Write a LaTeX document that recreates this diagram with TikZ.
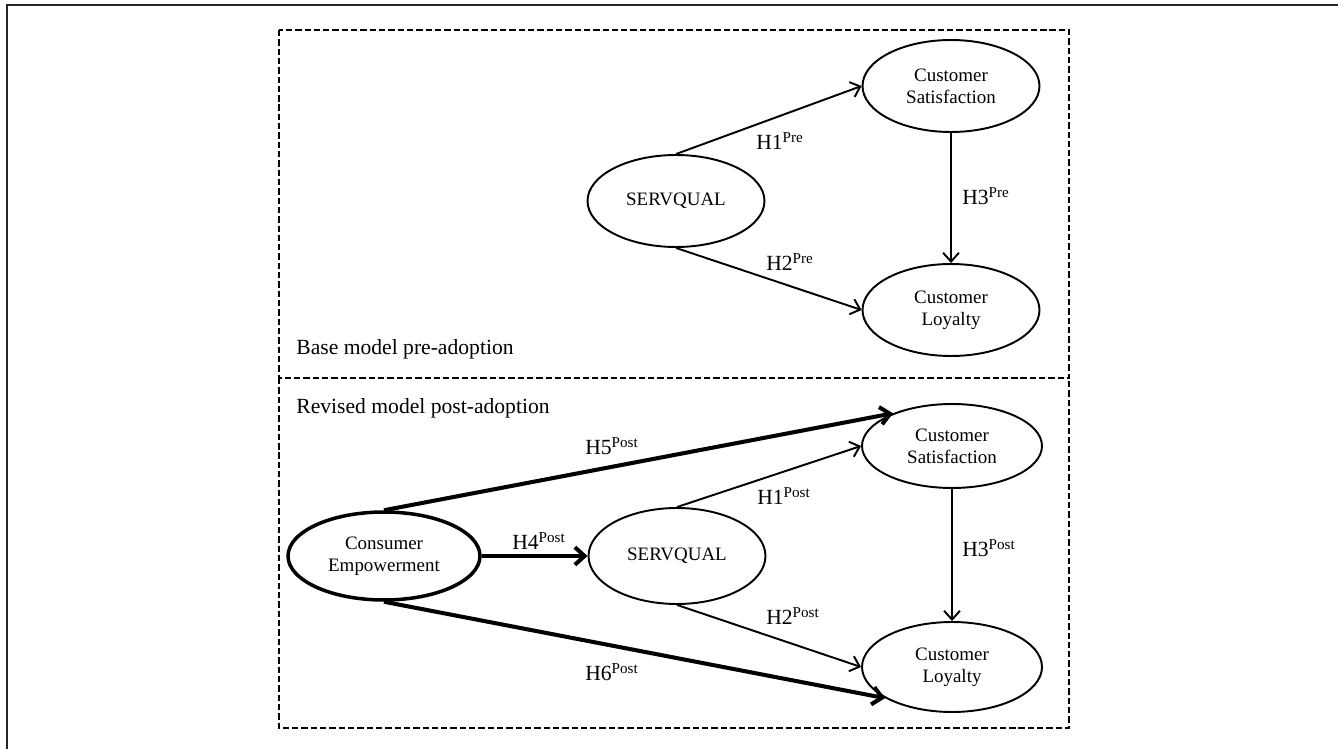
\documentclass[tikz,border=0pt]{standalone}
\usepackage{fontspec}
\setmainfont{Liberation Serif}
\usetikzlibrary{shapes.geometric,arrows.meta}

\tikzset{
  construct/.style={ellipse,draw,line width=1.1pt,inner sep=0pt,align=center,
    minimum width=3.54cm,minimum height=1.84cm,font=\fontsize{10.8}{12.6}\selectfont},
  hyp/.style={line width=1.1pt,-{Straight Barb[length=5pt,width=9pt]}},
  hypthick/.style={line width=2.3pt,-{Straight Barb[length=5.5pt,width=10pt]}},
  hlabel/.style={inner sep=0pt,font=\fontsize{12.3}{14}\selectfont},
  panel/.style={line width=1.2pt,dash pattern=on 3.6pt off 1.7pt}
}

\begin{document}
\begin{tikzpicture}[x=0.02cm,y=-0.02cm]
      \useasboundingbox (0,0) rectangle (1338,749);
      \draw[gray!30!black,line width=0.8pt] (7,749) -- (7,5) -- (1338,5);

      \draw[panel] (279,30) rectangle (1069,378);
      \draw[panel] (279,378) -- (279,728) -- (1069,728) -- (1069,378);

      % base model pre-adoption
      \node[construct] (sq1) at (676,201) {SERVQUAL};
      \node[construct] (cs1) at (951,86) {Customer\\Satisfaction};
      \node[construct] (cl1) at (951,310) {Customer\\Loyalty};

      \draw[hyp] (sq1.north) -- (cs1.west);
      \draw[hyp] (sq1.south) -- (cl1.west);
      \draw[hyp] (cs1.south) -- (cl1.north);

      \node[hlabel] (h1pre) at (780,141) {H1\textsuperscript{Pre}};
      \node[hlabel] (h2pre) at (790,262) {H2\textsuperscript{Pre}};
      \node[hlabel] (h3pre) at (986,196) {H3\textsuperscript{Pre}};
      \node[hlabel,anchor=west] (basetitle) at (296,349) {Base model pre-adoption};

      % revised model post-adoption
      \node[construct,line width=2pt,minimum width=3.84cm,minimum height=1.76cm] (ce) at (384,556) {Consumer\\Empowerment};
      \node[construct,minimum height=1.92cm] (sq2) at (677,556) {SERVQUAL};
      \node[construct,minimum width=3.6cm,minimum height=1.68cm] (cs2) at (952,446) {Customer\\Satisfaction};
      \node[construct,minimum width=3.6cm,minimum height=1.8cm] (cl2) at (952,667) {Customer\\Loyalty};

      \draw[hypthick] (ce.north) -- (cs2.151);
      \draw[hypthick] (ce.east) -- (sq2.west);
      \draw[hypthick] (ce.south) -- (cl2.205);
      \draw[hyp] (sq2.north) -- (cs2.west);
      \draw[hyp] (sq2.south) -- (cl2.west);
      \draw[hyp] (cs2.south) -- (cl2.north);

      \node[hlabel] (h5post) at (612,446) {H5\textsuperscript{Post}};
      \node[hlabel] (h4post) at (539,541) {H4\textsuperscript{Post}};
      \node[hlabel] (h1post) at (784,496) {H1\textsuperscript{Post}};
      \node[hlabel] (h2post) at (793,616) {H2\textsuperscript{Post}};
      \node[hlabel] (h3post) at (989,548) {H3\textsuperscript{Post}};
      \node[hlabel] (h6post) at (612,672) {H6\textsuperscript{Post}};
      \node[hlabel,anchor=west] (revtitle) at (296,408) {Revised model post-adoption};
\end{tikzpicture}
\end{document}
